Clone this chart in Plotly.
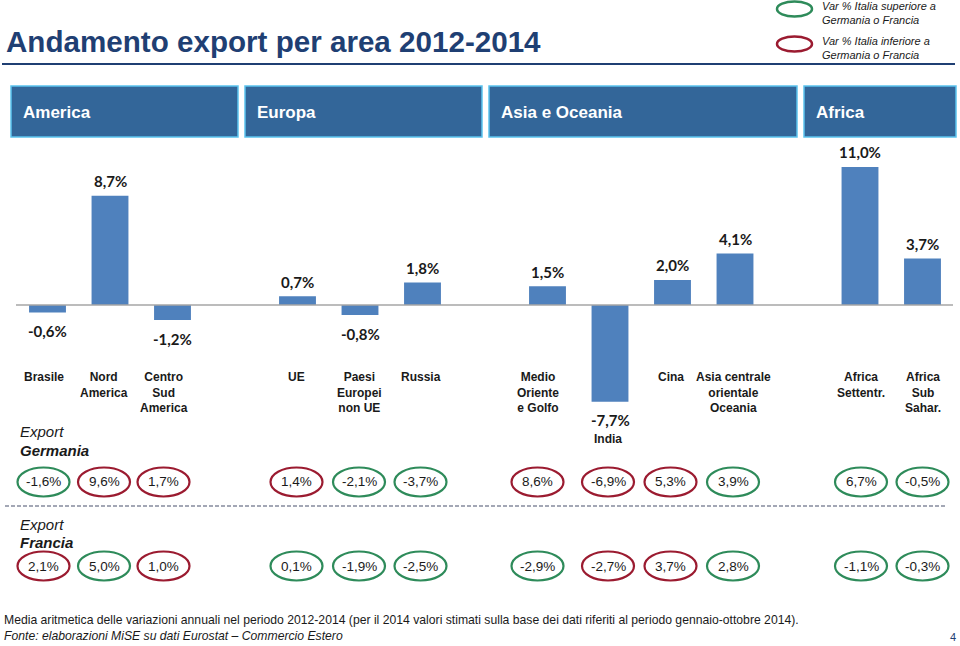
import plotly.graph_objects as go

# ---------------- data ----------------
categories = ["Brasile", "Nord<br>America", "Centro<br>Sud<br>America",
              "UE", "Paesi<br>Europei<br>non UE", "Russia",
              "Medio<br>Oriente<br>e Golfo", "India", "Cina",
              "Asia centrale<br>orientale<br>Oceania",
              "Africa<br>Settentr.", "Africa<br>Sub<br>Sahar."]
slots = [0, 1, 2, 4, 5, 6, 8, 9, 10, 11, 13, 14]
italy = [-0.6, 8.7, -1.2, 0.7, -0.8, 1.8, 1.5, -7.7, 2.0, 4.1, 11.0, 3.7]
germany = [-1.6, 9.6, 1.7, 1.4, -2.1, -3.7, 8.6, -6.9, 5.3, 3.9, 6.7, -0.5]
france = [2.1, 5.0, 1.0, 0.1, -1.9, -2.5, -2.9, -2.7, 3.7, 2.8, -1.1, -0.3]
areas = ["America", "Europa", "Asia e Oceania", "Africa"]

# ---------------- layout constants ----------------
W, H = 960, 646
SLOT_PX = 62.5
X0_PX = 47.5
ZERO_PX = 305
PCT_PX = 12.55
nudge = [-4, -6, -9, -1, -1, -2, -10, -2, -2, -2, 1, 0]   # small text offsets (px)
area_boxes = [(11, 238), (245, 482), (489, 797), (804, 956)]

GREEN = "#2E8B5A"
RED = "#9B1B30"
NAVY = "#1F3F73"
TXT = "#1a1a1a"


def yp(p):
    return 1 - p / H


def xp(p):
    return p / W


def fmt(v):
    return f"{v:.1f}%".replace(".", ",")


fig = go.Figure()
fig.add_trace(go.Bar(x=slots, y=italy, width=0.59, marker_color="#4F81BD",
                     marker_line_width=0, hoverinfo="skip"))

shapes = []
ann = []

# title + rule
ann.append(dict(x=xp(4), y=yp(42), xref="paper", yref="paper", xanchor="left",
                yanchor="middle", text="<b>Andamento export per area 2012-2014</b>",
                showarrow=False, font=dict(family="Liberation Sans", size=29.6, color=NAVY)))
shapes.append(dict(type="line", xref="paper", yref="paper", x0=xp(2), x1=xp(955),
                   y0=yp(64), y1=yp(64), line=dict(color=NAVY, width=2)))

# legend
for cy, col, txt in [(9, GREEN, "superiore"), (44, RED, "inferiore")]:
    shapes.append(dict(type="circle", xref="paper", yref="paper",
                       x0=xp(777), x1=xp(812), y0=yp(cy - 7.5), y1=yp(cy + 7.5),
                       line=dict(color=col, width=2.5)))
    ann.append(dict(x=xp(820), y=yp(cy + 4), xref="paper", yref="paper",
                    xanchor="left", yanchor="middle",
                    text=f"<i>Var % Italia {txt} a<br>Germania o Francia</i>",
                    showarrow=False, align="left",
                    font=dict(family="Liberation Sans", size=11, color=TXT)))

# area header boxes
for (bx0, bx1), name in zip(area_boxes, areas):
    shapes.append(dict(type="rect", xref="paper", yref="paper", x0=xp(bx0), x1=xp(bx1),
                       y0=yp(137), y1=yp(86), fillcolor="#336699",
                       line=dict(color="#5BC3EE", width=1.5), layer="below"))
    ann.append(dict(x=xp(bx0 + 10), y=yp(112), xref="paper", yref="paper",
                    xanchor="left", yanchor="middle", text=f"<b>{name}</b>",
                    showarrow=False,
                    font=dict(family="Liberation Sans", size=17, color="white")))

# baseline
shapes.append(dict(type="line", xref="paper", yref="y", x0=xp(16), x1=xp(953),
                   y0=0, y1=0, line=dict(color="#A6A6A6", width=1.5)))

# bar value labels
for s, v in zip(slots, italy):
    ann.append(dict(x=s, y=v, xref="x", yref="y", text=f"<b>{fmt(v)}</b>",
                    showarrow=False, yanchor="middle",
                    yshift=14.5 if v >= 0 else -18.5,
                    font=dict(family="Lato", size=15, color=TXT)))

# category labels
for i, (s, c) in enumerate(zip(slots, categories)):
    if c == "India":
        ann.append(dict(x=s, y=yp(439), xref="x", yref="paper", text=f"<b>{c}</b>",
                        showarrow=False, yanchor="middle", xshift=nudge[i],
                        font=dict(family="Liberation Sans", size=12, color=TXT)))
    else:
        ann.append(dict(x=s, y=yp(368), xref="x", yref="paper", text=f"<b>{c}</b>",
                        showarrow=False, yanchor="top", xshift=nudge[i],
                        font=dict(family="Liberation Sans", size=12, color=TXT)))

# country rows
for label, vals, cy, ly in [("Germania", germany, 482, 432), ("Francia", france, 566, 524)]:
    ann.append(dict(x=xp(18), y=yp(ly), xref="paper", yref="paper", xanchor="left",
                    yanchor="middle", text="<i>Export</i>", showarrow=False,
                    font=dict(family="Liberation Sans", size=15, color=TXT)))
    ann.append(dict(x=xp(18), y=yp(ly + 18), xref="paper", yref="paper", xanchor="left",
                    yanchor="middle", text=f"<b><i>{label}</i></b>", showarrow=False,
                    font=dict(family="Liberation Sans", size=15, color=TXT)))
    for i, (s, v, it) in enumerate(zip(slots, vals, italy)):
        col = GREEN if it > v else RED
        shapes.append(dict(type="circle", xref="x", xsizemode="pixel", xanchor=s,
                           x0=nudge[i] - 26, x1=nudge[i] + 26, yref="paper",
                           y0=yp(cy + 14.5), y1=yp(cy - 14.5),
                           line=dict(color=col, width=2.2)))
        ann.append(dict(x=s, y=yp(cy), xref="x", yref="paper", text=fmt(v),
                        showarrow=False, yanchor="middle", xshift=nudge[i],
                        font=dict(family="Liberation Sans", size=13.5, color=TXT)))

# dashed separator
shapes.append(dict(type="line", xref="paper", yref="paper", x0=xp(5), x1=xp(947),
                   y0=yp(506), y1=yp(506),
                   line=dict(color="#A3A7B5", width=2, dash="4px,2px")))

# footer
ann.append(dict(x=xp(2), y=yp(620), xref="paper", yref="paper", xanchor="left",
                yanchor="middle", showarrow=False,
                text="Media aritmetica delle variazioni annuali nel periodo 2012-2014 "
                     "(per il 2014 valori stimati sulla base dei dati riferiti al periodo "
                     "gennaio-ottobre 2014).",
                font=dict(family="Liberation Sans", size=12.2, color=TXT)))
ann.append(dict(x=xp(2), y=yp(636), xref="paper", yref="paper", xanchor="left",
                yanchor="middle", showarrow=False,
                text="<i>Fonte: elaborazioni MiSE su dati Eurostat – Commercio Estero</i>",
                font=dict(family="Liberation Sans", size=12.2, color=TXT)))
ann.append(dict(x=xp(953), y=yp(637), xref="paper", yref="paper", xanchor="center",
                yanchor="middle", showarrow=False, text="4",
                font=dict(family="Liberation Sans", size=11, color=NAVY)))

fig.update_layout(
    width=W, height=H, margin=dict(l=0, r=0, t=0, b=0),
    paper_bgcolor="white", plot_bgcolor="white", showlegend=False,
    shapes=shapes, annotations=ann,
    xaxis=dict(range=[(0 - X0_PX) / SLOT_PX, (W - X0_PX) / SLOT_PX], domain=[0, 1],
               visible=False, fixedrange=True),
    yaxis=dict(range=[-(H - ZERO_PX) / PCT_PX, ZERO_PX / PCT_PX], domain=[0, 1],
               visible=False, fixedrange=True),
)

fig.write_html("out.html", config={"displayModeBar": False},
               post_script="document.body.style.margin='0';"
                           "document.body.style.overflow='hidden';")
